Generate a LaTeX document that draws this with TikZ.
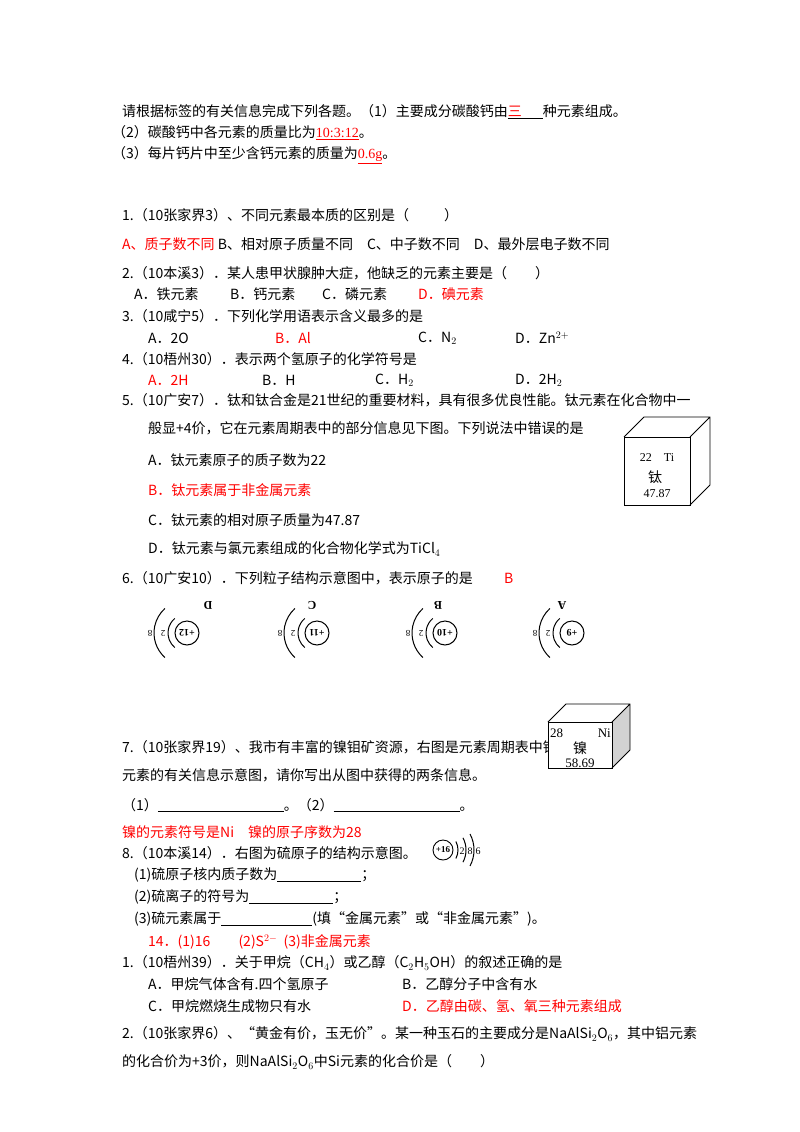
\documentclass[tikz,border=0pt]{standalone}
\usepackage{fontspec}
\setmainfont{Liberation Serif}
\newfontfamily\cjk{Noto Sans CJK SC}
\newcommand\myul[1]{\underline{#1}}
\begin{document}
\begin{tikzpicture}[x=1pt,y=-1pt,
  txt/.style={anchor=west,inner sep=0pt,font=\fontsize{14}{16}\selectfont\cjk},
  red/.style={txt,text=red},
  cube/.style={draw,line width=0.8pt},
  shell/.style={line width=1pt}]
\useasboundingbox (0,0) rectangle (800,1132);
\def\ru#1{\textcolor{red}{\myul{#1}}}
\node[txt] (l1) at (122,112) {请根据标签的有关信息完成下列各题。（1）主要成分碳酸钙由\myul{\textcolor{red}{三}\hspace{1.5em}}种元素组成。};
\node[txt] (l2) at (112,133) {（2）碳酸钙中各元素的质量比为\ru{\rmfamily 10:3:12}。};
\node[txt] (l3) at (112,155) {（3）每片钙片中至少含钙元素的质量为\ru{\rmfamily 0.6g}。};
\node[txt] (q1) at (122,215) {1.（10张家界3）、不同元素最本质的区别是（\hspace{2.5em}）};
\node[txt] (q1a) at (122,244) {\textcolor{red}{A、质子数不同} B、相对原子质量不同\quad C、中子数不同\quad D、最外层电子数不同};
\node[txt] (q2) at (122,273) {2.（10本溪3）．某人患甲状腺肿大症，他缺乏的元素主要是（\hspace{2em}）};
\node[txt] (q2a) at (134,294) {A．铁元素};
\node[txt] (q2b) at (230,294) {B．钙元素};
\node[txt] (q2c) at (322,294) {C．磷元素};
\node[red] (q2d) at (418,294) {D．碘元素};
\node[txt] (q3) at (122,316) {3.（10咸宁5）．下列化学用语表示含义最多的是};
\node[txt] (q3a) at (148,338) {A．2O};
\node[red] (q3b) at (275,338) {B．Al};
\node[txt] (q3c) at (418,338) {C．N$_2$};
\node[txt] (q3d) at (515,338) {D．Zn$^{2+}$};
\node[txt] (q4) at (122,359) {4.（10梧州30）．表示两个氢原子的化学符号是};
\node[red] (q4a) at (148,380) {A．2H};
\node[txt] (q4b) at (262,380) {B．H};
\node[txt] (q4c) at (375,380) {C．H$_2$};
\node[txt] (q4d) at (515,380) {D．2H$_2$};
\node[txt] (q5) at (122,400) {5.（10广安7）．钛和钛合金是21世纪的重要材料，具有很多优良性能。钛元素在化合物中一};
\node[txt] (q5b) at (148,428) {般显+4价，它在元素周期表中的部分信息见下图。下列说法中错误的是};
\node[txt] (q5A) at (148,460) {A．钛元素原子的质子数为22};
\node[red] (q5B) at (148,490) {B．钛元素属于非金属元素};
\node[txt] (q5C) at (148,520) {C．钛元素的相对原子质量为47.87};
\node[txt] (q5D) at (148,549) {D．钛元素与氯元素组成的化合物化学式为TiCl$_4$};
% Ti cube
\draw[cube] (624,437) rectangle (690,505);
\draw[cube] (624,437) -- (644,417) -- (710,417) -- (710,485) -- (690,505) (690,437) -- (710,417);
\node[txt,anchor=center,font=\fontsize{12}{14}\selectfont\rmfamily] (ti1) at (657,458) {22\quad Ti};
\node[txt,anchor=center] (ti2) at (655,477) {钛};
\node[txt,anchor=center,font=\fontsize{12}{14}\selectfont\rmfamily] (ti3) at (657,494) {47.87};
\node[txt] (q6) at (122,578) {6.（10广安10）．下列粒子结构示意图中，表示原子的是};
\node[red] (q6r) at (504,578) {B};
% atoms (upside-down)
\foreach \n/\cx/\lx/\q in {D/187/21/+12,C/317/-5/+11,B/445/-7/+10,A/572/-10/+9}{
  \begin{scope}[shift={(\cx,633)}]
  \draw[line width=1pt] (0,0) circle (12);
  \node[rotate=180,inner sep=0pt,font=\fontsize{10}{12}\selectfont\rmfamily\bfseries] (n\n) at (0,0) {\q};
  \draw[shell] (0,0) ++(130:19) arc[start angle=130,end angle=230,radius=19];
  \draw[shell] (0,0) ++(132:33) arc[start angle=132,end angle=228,radius=33];
  \node[rotate=180,inner sep=0pt,font=\fontsize{9}{10}\selectfont\rmfamily] (e1\n) at (-24,0) {2};
  \node[rotate=180,inner sep=0pt,font=\fontsize{9}{10}\selectfont\rmfamily] (e2\n) at (-37,0) {8};
  \node[rotate=180,inner sep=0pt,font=\fontsize{12}{12}\selectfont\rmfamily\bfseries] (L\n) at (\lx,-28) {\n};
  \end{scope}}
\node[txt] (q7) at (122,747) {7.（10张家界19）、我市有丰富的镍钼矿资源，右图是元素周期表中镍};
\node[txt] (q7b) at (122,775) {元素的有关信息示意图，请你写出从图中获得的两条信息。};
\node[txt] (q7c) at (122,805) {（1）\myul{\hspace{9em}}。（2）\myul{\hspace{9em}}。};
% Ni cube
\fill[white] (548,704) rectangle (630,768);
\fill[gray!35] (612,722) -- (630,704) -- (630,750) -- (612,768) -- cycle;
\draw[cube] (548,722) rectangle (612,768);
\draw[cube] (548,722) -- (566,704) -- (630,704) -- (630,750) -- (612,768) (612,722) -- (630,704);
\node[txt,font=\fontsize{13}{14}\selectfont\rmfamily] (ni1) at (550,733) {28};
\node[txt,anchor=east,font=\fontsize{13}{14}\selectfont\rmfamily] (ni2) at (611,733) {Ni};
\node[txt,anchor=center] (ni3) at (580,748) {镍};
\node[txt,anchor=center,font=\fontsize{13}{14}\selectfont\rmfamily] (ni4) at (580,763) {58.69};
\node[red] (ans7) at (122,832) {镍的元素符号是Ni\quad 镍的原子序数为28};
\node[txt] (q8) at (122,853) {8.（10本溪14）．右图为硫原子的结构示意图。};
\node[txt] (q8a) at (134,875) {(1)硫原子核内质子数为\myul{\hspace{6em}}；};
\node[txt] (q8b) at (134,897) {(2)硫离子的符号为\myul{\hspace{6em}}；};
\node[txt] (q8c) at (134,919) {(3)硫元素属于\myul{\hspace{6.5em}}(填“金属元素”或“非金属元素”)。};
% sulfur
\draw[line width=0.9pt] (443,850) circle (10);
\node[inner sep=0pt,font=\fontsize{9}{10}\selectfont\rmfamily\bfseries] (s0) at (443,850) {+16};
\foreach \r in {18,26,34}{\draw[shell] (440,850) ++(-28:\r) arc[start angle=-28,end angle=28,radius=\r];}
\node[inner sep=0pt,font=\fontsize{10}{11}\selectfont\rmfamily] (s1) at (462,851) {2};
\node[inner sep=0pt,font=\fontsize{10}{11}\selectfont\rmfamily] (s2) at (470,851) {8};
\node[inner sep=0pt,font=\fontsize{10}{11}\selectfont\rmfamily] (s3) at (478,851) {6};
\node[red] (ans8) at (148,942) {14．(1)16\qquad (2)S$^{2-}$\ \ (3)非金属元素};
\node[txt] (q9) at (122,963) {1.（10梧州39）．关于甲烷（CH$_4$）或乙醇（C$_2$H$_5$OH）的叙述正确的是};
\node[txt] (q9a) at (148,984) {A．甲烷气体含有.四个氢原子};
\node[txt] (q9b) at (402,984) {B．乙醇分子中含有水};
\node[txt] (q9c) at (148,1006) {C．甲烷燃烧生成物只有水};
\node[red] (q9d) at (402,1006) {D．乙醇由碳、氢、氧三种元素组成};
\node[txt] (q10) at (122,1034) {2.（10张家界6）、“黄金有价，玉无价”。某一种玉石的主要成分是NaAlSi$_2$O$_6$，其中铝元素};
\node[txt] (q10b) at (122,1062) {的化合价为+3价，则NaAlSi$_2$O$_6$中Si元素的化合价是（\hspace{2em}）};
\end{tikzpicture}
\end{document}
